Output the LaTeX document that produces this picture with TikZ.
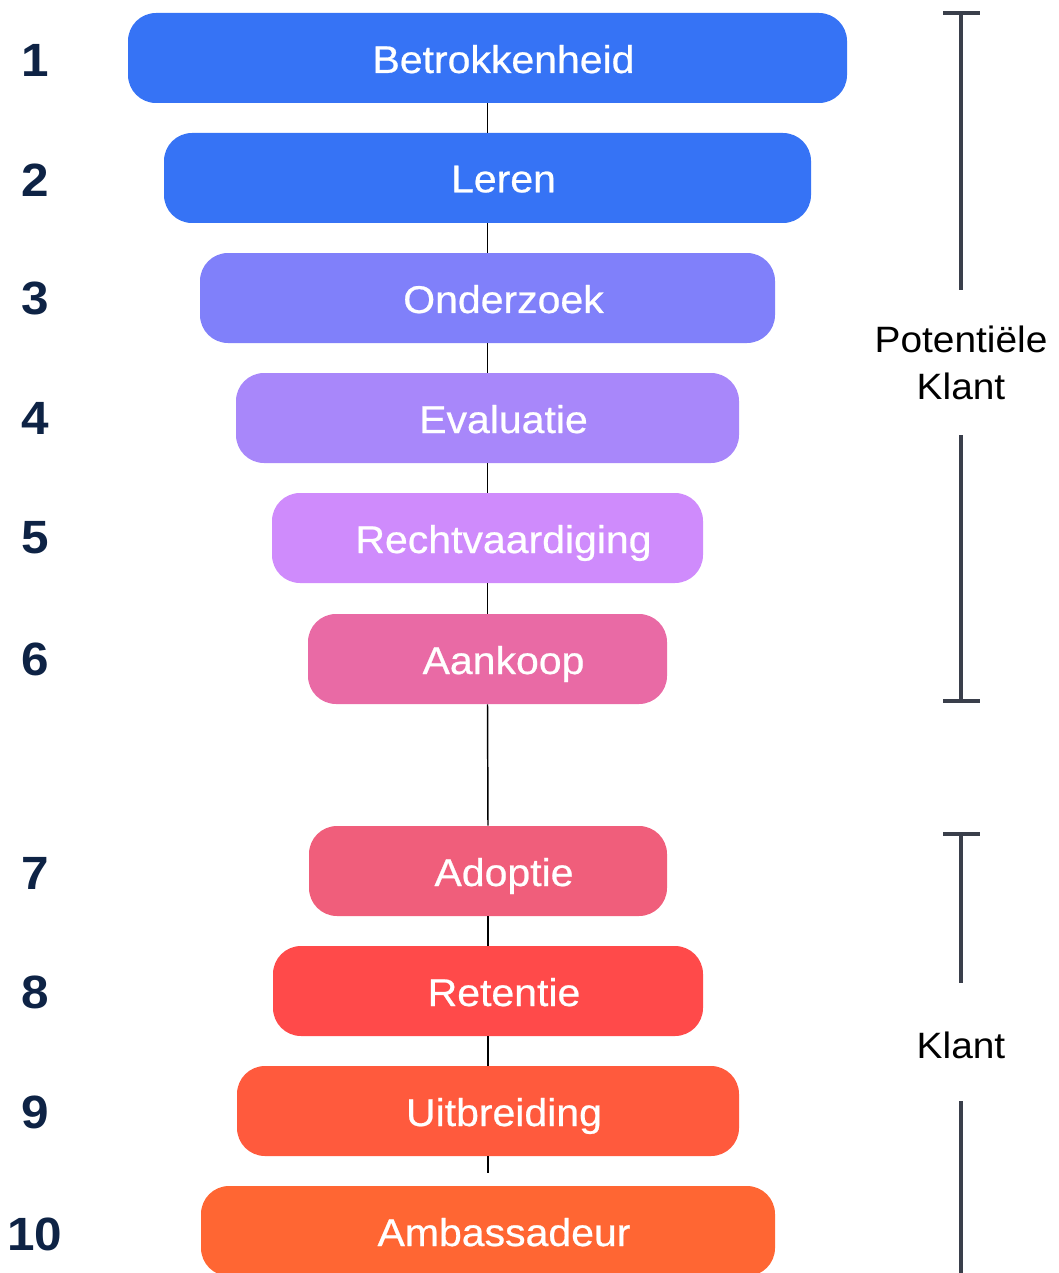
\documentclass[tikz,border=0pt]{standalone}
\usepackage{fontspec}
\setmainfont{Liberation Sans}[FakeStretch=1.06]
\newfontfamily\boxfont{Liberation Sans}[FakeStretch=1.06,FakeBold=0.6]
\usetikzlibrary{calc}
\definecolor{cA}{HTML}{3673F5}
\definecolor{cB}{HTML}{8080FA}
\definecolor{cC}{HTML}{A887FA}
\definecolor{cD}{HTML}{CF8BFC}
\definecolor{cE}{HTML}{E96AA5}
\definecolor{cF}{HTML}{F05E7B}
\definecolor{cG}{HTML}{FF4A4A}
\definecolor{cH}{HTML}{FF5A3D}
\definecolor{cI}{HTML}{FF6633}
\definecolor{numc}{HTML}{0E2345}
\definecolor{brc}{HTML}{3A3F4B}
\tikzset{
  stage/.style={rounded corners=21pt, minimum height=67.5pt, inner sep=0pt, draw=none},
  lbl/.style={text=white, font=\boxfont\fontsize{29}{34}\selectfont, inner sep=0pt, anchor=center},
  num/.style={text=numc, font=\fontsize{35}{40}\selectfont\bfseries, inner sep=0pt},
  side/.style={text=black, font=\fontsize{27.5}{35}\selectfont, align=center, inner sep=0pt},
  conn/.style={draw=black, line width=1.1pt},
  brk/.style={draw=brc, line width=2.3pt}
}
\begin{document}
\begin{tikzpicture}[x=0.75pt,y=-0.75pt]
\useasboundingbox (0,0) rectangle (1059,1273);
\clip (0,0) rectangle (1059,1273);
% boxes
\node[stage, fill=cA, minimum width=539.25pt] (b1) at (487.5,58) {};
\node[stage, fill=cA, minimum width=485.25pt] (b2) at (487.5,178) {};
\node[stage, fill=cB, minimum width=431.25pt] (b3) at (487.5,298) {};
\node[stage, fill=cC, minimum width=377.25pt] (b4) at (487.5,418) {};
\node[stage, fill=cD, minimum width=323.25pt] (b5) at (487.5,538) {};
\node[stage, fill=cE, minimum width=269.25pt] (b6) at (487.5,659) {};
\node[stage, fill=cF, minimum width=268.5pt] (b7) at (488,871) {};
\node[stage, fill=cG, minimum width=322.5pt] (b8) at (488,991) {};
\node[stage, fill=cH, minimum width=376.5pt] (b9) at (488,1111) {};
\node[stage, fill=cI, minimum width=430.5pt] (b10) at (488,1231) {};
% labels
\node[lbl] (t1) at ($(b1.center)+(16,5)$) {Betrokkenheid\vphantom{Agp}};
\node[lbl] (t2) at ($(b2.center)+(16,5)$) {Leren\vphantom{Agp}};
\node[lbl] (t3) at ($(b3.center)+(16,5)$) {Onderzoek\vphantom{Agp}};
\node[lbl] (t4) at ($(b4.center)+(16,5)$) {Evaluatie\vphantom{Agp}};
\node[lbl] (t5) at ($(b5.center)+(16,5)$) {Rechtvaardiging\vphantom{Agp}};
\node[lbl] (t6) at ($(b6.center)+(16,5)$) {Aankoop\vphantom{Agp}};
\node[lbl] (t7) at ($(b7.center)+(16,5)$) {Adoptie\vphantom{Agp}};
\node[lbl] (t8) at ($(b8.center)+(16,5)$) {Retentie\vphantom{Agp}};
\node[lbl] (t9) at ($(b9.center)+(16,5)$) {Uitbreiding\vphantom{Agp}};
\node[lbl] (t10) at ($(b10.center)+(16,5)$) {Ambassadeur\vphantom{Agp}};
% connectors
\coordinate (e9) at (488,1173);
\draw[conn] (b1.south) -- (b2.north);
\draw[conn] (b2.south) -- (b3.north);
\draw[conn] (b3.south) -- (b4.north);
\draw[conn] (b4.south) -- (b5.north);
\draw[conn] (b5.south) -- (b6.north);
\draw[conn] (b6.south) -- (b7.north);
\draw[conn] (b7.south) -- (b8.north);
\draw[conn] (b8.south) -- (b9.north);
\draw[conn] (b9.south) -- (e9);
% numbers
\node[num] (n1) at (35,60) {1};
\node[num] (n2) at (35,180) {2};
\node[num] (n3) at (35,298) {3};
\node[num] (n4) at (35,418) {4};
\node[num] (n5) at (35,538) {5};
\node[num] (n6) at (35,659) {6};
\node[num] (n7) at (35,873) {7};
\node[num] (n8) at (35,992) {8};
\node[num] (n9) at (35,1112) {9};
\node[num] (n10) at (35,1234) {10};
% side brackets
\node[side] (s1) at (961,363) {Potentiële\\Klant};
\node[side] (s2) at (961,1045) {Klant};
\coordinate (p1) at (961,13);
\coordinate (p2) at (961,290);
\coordinate (p3) at (961,435);
\coordinate (p4) at (961,701);
\coordinate (q1) at (961,834);
\coordinate (q2) at (961,983);
\coordinate (q3) at (961,1101);
\coordinate (q4) at (961,1280);
\draw[brk] (p1) -- (p2);
\draw[brk] (p3) -- (p4);
\draw[brk] ($(p1)+(-18,0)$) -- ($(p1)+(19,0)$);
\draw[brk] ($(p4)+(-18,0)$) -- ($(p4)+(19,0)$);
\draw[brk] (q1) -- (q2);
\draw[brk] (q3) -- (q4);
\draw[brk] ($(q1)+(-18,0)$) -- ($(q1)+(19,0)$);
\end{tikzpicture}
\end{document}
